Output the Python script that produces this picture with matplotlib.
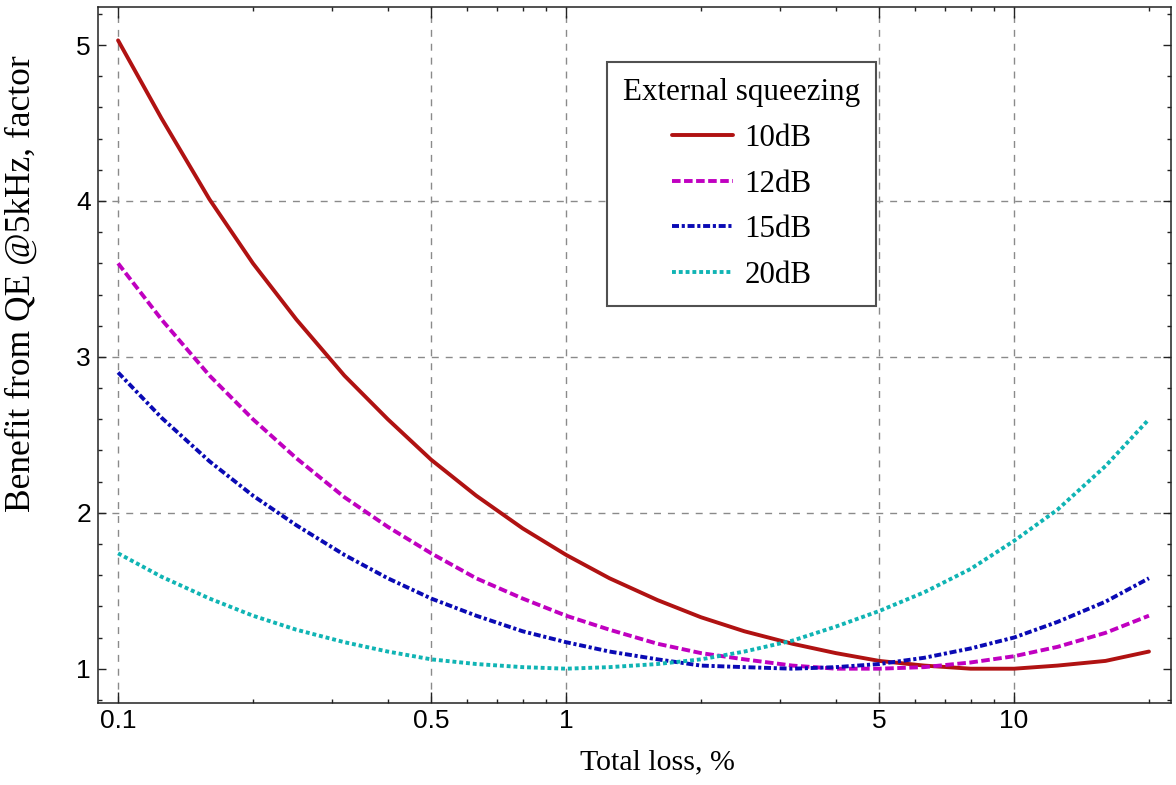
import numpy as np
import matplotlib
matplotlib.use('Agg')
import matplotlib.pyplot as plt
import matplotlib.ticker as ticker

# total loss in percent, and benefit factor for each external squeezing level
loss = [0.1, 0.125, 0.16, 0.2, 0.25, 0.32, 0.4, 0.5, 0.63, 0.8, 1, 1.25,
        1.6, 2, 2.5, 3.2, 4, 5, 6.3, 8, 10, 12.5, 16, 20]
sq10 = [5.03, 4.53, 4.01, 3.60, 3.24, 2.88, 2.60, 2.34, 2.11, 1.90, 1.73, 1.58,
        1.44, 1.33, 1.24, 1.16, 1.10, 1.05, 1.02, 1.00, 1.00, 1.02, 1.05, 1.11]
sq12 = [3.60, 3.24, 2.88, 2.60, 2.35, 2.10, 1.91, 1.74, 1.58, 1.45, 1.34, 1.25,
        1.16, 1.10, 1.06, 1.02, 1.00, 1.00, 1.01, 1.04, 1.08, 1.14, 1.23, 1.34]
sq15 = [2.90, 2.61, 2.33, 2.11, 1.92, 1.73, 1.58, 1.45, 1.34, 1.24, 1.17, 1.11,
        1.06, 1.02, 1.01, 1.00, 1.01, 1.03, 1.07, 1.13, 1.20, 1.30, 1.43, 1.58]
sq20 = [1.74, 1.59, 1.45, 1.34, 1.25, 1.17, 1.11, 1.06, 1.03, 1.01, 1.00, 1.01,
        1.03, 1.06, 1.11, 1.18, 1.27, 1.37, 1.49, 1.64, 1.82, 2.02, 2.30, 2.60]
labels = ['10dB', '12dB', '15dB', '20dB']

xticks = [0.1, 0.5, 1, 5, 10]
xtick_labels = ['0.1', '0.5', '1', '5', '10']
xminor = [0.2, 0.3, 0.4, 0.6, 0.7, 0.8, 0.9, 2, 3, 4, 6, 7, 8, 9, 20]
xgrid = [0.1, 0.5, 1, 5, 10]
ygrid = [2, 3, 4]

serif = ['Liberation Serif', 'DejaVu Serif']
sans = ['Liberation Sans', 'DejaVu Sans']

fig = plt.figure(figsize=(11.76, 7.85), dpi=100)
ax = fig.add_axes([98/1176, 1-703/785, 1073/1176, 696/785])

for x in xgrid:
    ax.axvline(x, color='#8a8a8a', lw=1.0, ls=(0, (5, 5)), zorder=1)
for y in ygrid:
    ax.axhline(y, color='#8a8a8a', lw=1.0, ls=(0, (5, 5)), zorder=1)

styles = [
    dict(color='#b01212', ls='-'),
    dict(color='#c000c0', ls=(0, (2.2, 0.9))),
    dict(color='#0a0ab4', ls=(0, (1.8, 0.7, 0.8, 0.7))),
    dict(color='#10b4b4', ls=(0, (1.0, 0.75))),
]
for ys, lab, st in zip([sq10, sq12, sq15, sq20], labels, styles):
    ax.plot(loss, ys, lw=2.8, label=lab, dash_capstyle='butt',
            solid_capstyle='round', zorder=3, **st)

ax.set_xscale('log')
ax.set_xlim(0.0902, 22.4)
ax.set_ylim(0.78, 5.244)

ax.xaxis.set_major_locator(ticker.FixedLocator(xticks))
ax.xaxis.set_major_formatter(ticker.FixedFormatter(xtick_labels))
ax.xaxis.set_minor_locator(ticker.FixedLocator(xminor))
ax.xaxis.set_minor_formatter(ticker.NullFormatter())
ax.yaxis.set_major_locator(ticker.MultipleLocator(1))
ax.yaxis.set_minor_locator(ticker.MultipleLocator(0.2))

ax.tick_params(which='both', direction='in', top=True, right=True,
               color='#222222', width=1.0)
ax.tick_params(axis='x', which='major', length=8, pad=4)
ax.tick_params(axis='x', which='minor', length=3)
ax.tick_params(axis='y', which='major', length=6, pad=5)
ax.tick_params(axis='y', which='minor', length=3)
for t in ax.get_xticklabels() + ax.get_yticklabels():
    t.set_fontfamily(sans)
    t.set_fontsize(19)
for sp in ax.spines.values():
    sp.set_color('#222222')
    sp.set_linewidth(1.1)

ax.set_xlabel('Total loss, %', fontfamily=serif, fontsize=21.5)
ax.xaxis.set_label_coords((657-98)/1073, -0.067)
ax.set_ylabel('Benefit from QE @5kHz, factor', fontfamily=serif, fontsize=25.5)
ax.yaxis.label.set_va('center')
ax.yaxis.set_label_coords((21-98)/1073, (703-284)/696)

leg = ax.legend(title='External squeezing', loc='upper left',
                bbox_to_anchor=((607-98)/1073, (703-62)/696),
                borderaxespad=0,
                prop={'family': serif, 'size': 22.3},
                title_fontproperties={'family': serif, 'size': 22.3},
                handlelength=1.97, handletextpad=0.39, labelspacing=0.54,
                borderpad=0.52, fancybox=False, framealpha=1.0)
leg.get_frame().set_edgecolor('#505050')
leg.get_frame().set_linewidth(1.5)

fig.savefig('out.png', dpi=100)
